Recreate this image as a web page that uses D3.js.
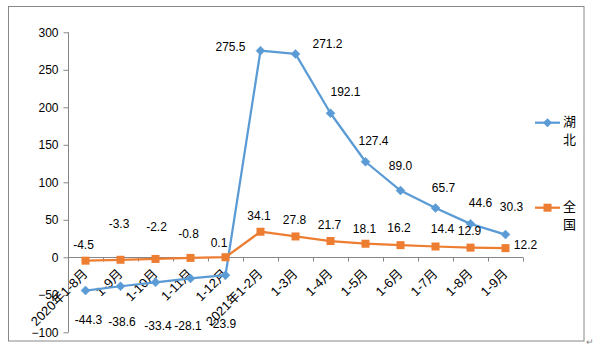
<!DOCTYPE html>
<html><head><meta charset="utf-8">
<script src="https://cdn.jsdelivr.net/npm/d3@7"></script>
<style>body{margin:0;background:#fff}svg{display:block}text{font-family:"Liberation Sans","Noto Sans CJK SC",sans-serif}</style>
</head><body>
<script>
const categories = ["2020年1-8月","1-9月","1-10月","1-11月","1-12月","2021年1-2月","1-3月","1-4月","1-5月","1-6月","1-7月","1-8月","1-9月"];
const hubei = [-44.3,-38.6,-33.4,-28.1,-23.9,275.5,271.2,192.1,127.4,89.0,65.7,44.6,30.3];
const national = [-4.5,-3.3,-2.2,-0.8,0.1,34.1,27.8,21.7,18.1,16.2,14.4,12.9,12.2];
const yTicks = [-100,-50,0,50,100,150,200,250,300];
const seriesNames = ["湖北","全国"];

// label placement offsets (layout only)
const hubeiLabelOffset = [[3,29.5],[1.5,36],[2.5,43],[-2.5,47],[-3,49],[-30,-4],[32,-10],[15,-21],[8,-21],[0,-24.6],[8,-20],[10,-21],[6,-28]];
const nationalLabelOffset = [[-2,-15.7],[-1.5,-35.5],[1,-31.7],[-2,-24.6],[-6.5,-14],[-1.5,-16],[-1,-16.5],[-1,-16],[-1,-15.4],[-1.5,-17],[7,-18],[-1,-16.6],[20,-3]];

const W = 599, H = 355;
const svg = d3.select("body").append("svg").attr("width", W).attr("height", H);

// outer frame
svg.append("rect").attr("x",8.5).attr("y",6.5).attr("width",575.5).attr("height",334.5)
  .attr("fill","none").attr("stroke","#888").attr("stroke-width",1);
svg.append("text").attr("x",586).attr("y",345).attr("font-size",9).attr("fill","#888").text("↵");

const idx = d3.range(categories.length);
const x = d3.scaleBand().domain(idx).range([68,523]);
const y = d3.scaleLinear().domain([-100,300]).range([332.3,32.3]);
const cx = i => x(i) + x.bandwidth()/2;
const axisColor = "#868686";

// y axis
const yAxis = d3.axisLeft(y).tickValues(yTicks).tickSize(5).tickPadding(5);
const gy = svg.append("g").attr("transform","translate(68.5,0)").call(yAxis);
gy.select(".domain").attr("stroke",axisColor).attr("d","M0,"+y(-100)+"V"+y(300));
gy.selectAll(".tick line").attr("stroke",axisColor);
gy.selectAll(".tick text").attr("font-size",12).attr("fill","#000").attr("font-family","Liberation Sans, sans-serif");

// x axis at zero
const gx = svg.append("g").attr("transform","translate(0,"+(Math.round(y(0))+0.5)+")");
gx.append("line").attr("x1",68).attr("x2",523).attr("stroke",axisColor);
const bounds = idx.map(i => x(i)).concat([x.range()[1]]);
gx.selectAll("line.tk").data(bounds).join("line").attr("class","tk")
  .attr("x1",d=>Math.round(d)+0.5).attr("x2",d=>Math.round(d)+0.5).attr("y1",0).attr("y2",4).attr("stroke",axisColor);
gx.selectAll("text.cat").data(idx).join("text").attr("class","cat")
  .attr("text-anchor","end").attr("font-size",13).attr("fill","#000")
  .attr("transform",i=>"translate("+(cx(i)+3)+",17) rotate(-45)")
  .text(i=>categories[i]);

const blue = "#5B9BD5", orange = "#ED7D31";
const line = d3.line().x((d,i)=>cx(i)).y(d=>y(d));

svg.append("path").datum(hubei).attr("d",line).attr("fill","none").attr("stroke",blue).attr("stroke-width",2.25).attr("stroke-linejoin","round");
svg.append("path").datum(national).attr("d",line).attr("fill","none").attr("stroke",orange).attr("stroke-width",2.25).attr("stroke-linejoin","round");

const diamond = "M0,-4.5L4.5,0L0,4.5L-4.5,0Z";
svg.selectAll("path.hm").data(hubei).join("path").attr("class","hm")
  .attr("d",diamond).attr("fill",blue).attr("stroke",blue).attr("stroke-width",0.5)
  .attr("transform",(d,i)=>"translate("+cx(i)+","+y(d)+")");
svg.selectAll("rect.nm").data(national).join("rect").attr("class","nm")
  .attr("width",8).attr("height",8).attr("fill",orange)
  .attr("x",(d,i)=>cx(i)-4).attr("y",d=>y(d)-4);

// data labels
svg.selectAll("text.hl").data(hubei).join("text").attr("class","hl")
  .attr("text-anchor","middle").attr("dy","0.35em").attr("font-size",12).attr("fill","#000")
  .attr("x",(d,i)=>cx(i)+hubeiLabelOffset[i][0]).attr("y",(d,i)=>y(d)+hubeiLabelOffset[i][1])
  .text(d=>d.toFixed(1));
svg.selectAll("text.nl").data(national).join("text").attr("class","nl")
  .attr("text-anchor","middle").attr("dy","0.35em").attr("font-size",12).attr("fill","#000")
  .attr("x",(d,i)=>cx(i)+nationalLabelOffset[i][0]).attr("y",(d,i)=>y(d)+nationalLabelOffset[i][1])
  .text(d=>d.toFixed(1));

// legend
const legY = [122.7, 207.7];
const lg = svg.append("g");
[0,1].forEach(k=>{
  const col = k===0?blue:orange;
  lg.append("line").attr("x1",535).attr("x2",560).attr("y1",legY[k]).attr("y2",legY[k]).attr("stroke",col).attr("stroke-width",2.25);
  if(k===0) lg.append("path").attr("d",diamond).attr("fill",col).attr("transform","translate(547.5,"+legY[k]+")");
  else lg.append("rect").attr("x",543.5).attr("y",legY[k]-4).attr("width",8).attr("height",8).attr("fill",col);
  const chars = seriesNames[k].split("");
  chars.forEach((ch,j)=>{
    lg.append("text").attr("x",563).attr("y",legY[k]-1+j*17.5).attr("dy","0.35em").attr("font-size",13)
      .attr("font-family","Noto Sans CJK SC").attr("fill","#000").text(ch);
  });
});
</script>
</body></html>
